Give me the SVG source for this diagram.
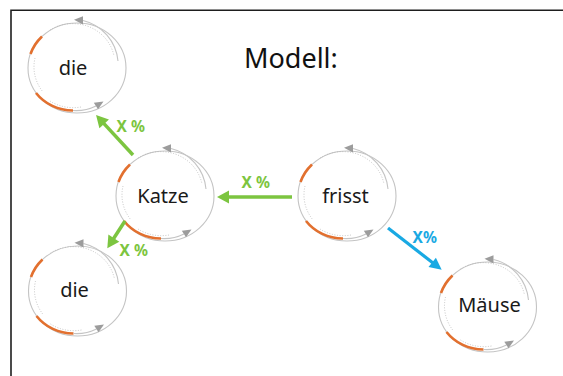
<svg xmlns="http://www.w3.org/2000/svg" xmlns:xlink="http://www.w3.org/1999/xlink" width="563" height="376" viewBox="0 0 563 376">
  <style>
    .rim { fill: none; stroke: #c4c4c4; stroke-width: 1.1; }
    .dots { fill: none; stroke: #b8b8b8; stroke-width: 0.8; stroke-dasharray: 1 1.6; }
    .accent { fill: none; stroke: #e2702f; stroke-width: 2.6; }
    .tip { fill: #9c9c9c; }
    .word { font-family: "Noto Sans", "Open Sans", sans-serif; font-size: 20px; fill: #1a1a1a; text-anchor: middle; }
    .title { font-family: "Noto Sans", "Open Sans", sans-serif; font-size: 27px; fill: #111; }
    .pct { font-family: "Noto Sans", "Open Sans", sans-serif; font-size: 15.5px; font-weight: bold; }
    .green { stroke: #7cc540; stroke-width: 3.5; fill: none; }
    .blue { stroke: #19a9e3; stroke-width: 3.2; fill: none; }
  </style>
  <defs>
    <!-- cycle ring drawn round each word -->
    <g id="ring">
      <ellipse rx="49" ry="45" class="rim"/>
      <path class="rim" d="M41,-7 A46,46 0 0 0 6,-47.5"/>
      <polygon class="tip" points="-3,-48.2 6,-51.8 6,-43.6"/>
      <path class="dots" d="M-27,-38 A42,40 0 0 1 37,-12"/>
      <path class="dots" d="M-42,-10 A43,41 0 0 0 -34,24"/>
      <path class="dots" d="M-27,33 A42,40 0 0 0 4,39"/>
      <path class="accent" d="M-35,-31.5 A49,45 0 0 0 -46.5,-14"/>
      <path class="accent" d="M-41,25 A46,44 0 0 0 -4,42.5"/>
      <path class="rim" d="M-4,42.5 A44,43 0 0 0 19,38"/>
      <polygon class="tip" points="26.5,33.6 21,41.2 16.8,34.8"/>
    </g>
    <marker id="headGreen" markerUnits="userSpaceOnUse" markerWidth="13" markerHeight="13" refX="1" refY="6.5" orient="auto" overflow="visible">
      <path d="M0,0 L12,6.5 L0,13 z" fill="#7cc540"/>
    </marker>
    <marker id="headBlue" markerUnits="userSpaceOnUse" markerWidth="13" markerHeight="12" refX="1" refY="6" orient="auto" overflow="visible">
      <path d="M0,0 L12,6 L0,12 z" fill="#19a9e3"/>
    </marker>
  </defs>

  <rect width="563" height="376" fill="#ffffff"/>
  <!-- frame edges -->
  <path d="M11,376 L11,10.3 L563,10.3" fill="none" stroke="#1e1e1e" stroke-width="1.6"/>

  <text class="title" x="244" y="68">Modell:</text>

  <g id="node-die-top">
    <use xlink:href="#ring" href="#ring" x="77" y="68"/>
    <text class="word" x="73" y="75">die</text>
  </g>
  <g id="node-katze">
    <use xlink:href="#ring" href="#ring" x="165" y="196"/>
    <text class="word" x="163" y="203">Katze</text>
  </g>
  <g id="node-frisst">
    <use xlink:href="#ring" href="#ring" x="347" y="196"/>
    <text class="word" x="345.5" y="203">frisst</text>
  </g>
  <g id="node-die-bottom">
    <use xlink:href="#ring" href="#ring" x="77.5" y="291"/>
    <text class="word" x="74.5" y="297">die</text>
  </g>
  <g id="node-maeuse">
    <use xlink:href="#ring" href="#ring" x="487.5" y="307"/>
    <text class="word" x="489.5" y="312">Mäuse</text>
  </g>

  <g id="connectors">
    <line class="green" x1="133" y1="155" x2="103.5" y2="123.1" marker-end="url(#headGreen)"/>
    <text class="pct" x="116.5" y="132" fill="#7cc540">X %</text>

    <line class="green" x1="292" y1="197" x2="228" y2="197" marker-end="url(#headGreen)"/>
    <text class="pct" x="241.5" y="188" fill="#7cc540">X %</text>

    <line class="green" x1="125" y1="221" x2="113.3" y2="239" marker-end="url(#headGreen)"/>
    <text class="pct" x="119.5" y="256" fill="#7cc540">X %</text>

    <line class="blue" x1="388" y1="228" x2="433" y2="263" marker-end="url(#headBlue)"/>
    <text class="pct" x="412.5" y="243" fill="#19a9e3">X%</text>
  </g>
</svg>
